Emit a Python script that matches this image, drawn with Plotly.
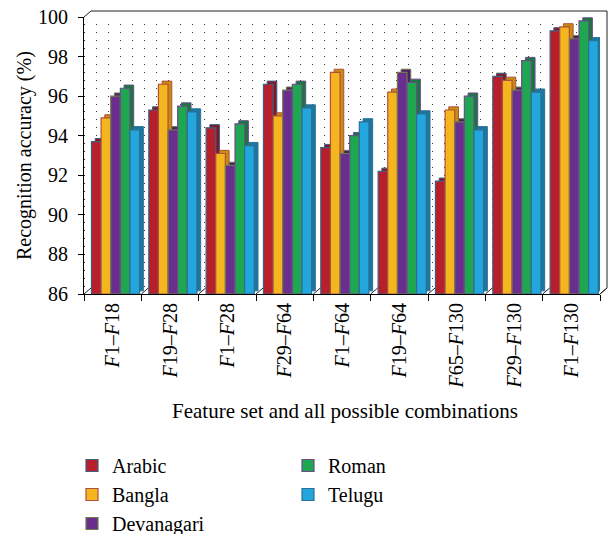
import plotly.graph_objects as go

# Feature-set combinations (x categories)
categories = [
    "<i>F</i>1–<i>F</i>18",
    "<i>F</i>19–<i>F</i>28",
    "<i>F</i>1–<i>F</i>28",
    "<i>F</i>29–<i>F</i>64",
    "<i>F</i>1–<i>F</i>64",
    "<i>F</i>19–<i>F</i>64",
    "<i>F</i>65–<i>F</i>130",
    "<i>F</i>29–<i>F</i>130",
    "<i>F</i>1–<i>F</i>130",
]

# Recognition accuracy (%) per script
arabic = [93.7, 95.3, 94.4, 96.6, 93.4, 92.2, 91.7, 97.0, 99.3]
bangla = [94.9, 96.6, 93.1, 95.0, 97.2, 96.2, 95.3, 96.8, 99.5]
devanagari = [96.0, 94.3, 92.5, 96.3, 93.1, 97.2, 94.7, 96.3, 98.9]
roman = [96.4, 95.5, 94.6, 96.6, 94.0, 96.7, 96.0, 97.8, 99.8]
telugu = [94.3, 95.2, 93.5, 95.4, 94.7, 95.1, 94.3, 96.2, 98.8]

y_ticks = [86, 88, 90, 92, 94, 96, 98, 100]

series = [
    # name, values, face colour, side colour, outline colour, legend
    ("Arabic", arabic, "#B7202A", "#7E1A22", "#3F5F86", "legend"),
    ("Bangla", bangla, "#F4B51F", "#C98C12", "#B0503A", "legend"),
    ("Devanagari", devanagari, "#6A2E8E", "#4A1F66", "#707A4C", "legend"),
    ("Roman", roman, "#1EA650", "#14793A", "#6B4C8C", "legend2"),
    ("Telugu", telugu, "#22A6DD", "#1878A3", "#2F6F92", "legend2"),
]

FONT = "Liberation Serif"
BASE = 86.0
BAR_W = 0.168      # bar width in category units
FIRST_OFF = -0.37  # left edge of first bar relative to category centre
DEPTH_X = 0.065    # 3D depth (category units)
DEPTH_Y = 0.16     # 3D depth (y units)

# plot area in pixels
W, H = 614, 534
L, R, T, B = 84, 14, 17, 240
PW, PH = W - L - R, H - T - B

fig = go.Figure()

for i, (name, vals, face, side, edge, leg) in enumerate(series):
    off = FIRST_OFF + i * BAR_W
    # extruded depth of the bar (side and top faces)
    fig.add_trace(go.Bar(
        x=categories,
        y=[v - BASE for v in vals],
        base=[BASE + DEPTH_Y] * len(vals),
        offset=off + DEPTH_X,
        width=BAR_W,
        marker=dict(color=side, line=dict(color=edge, width=1)),
        showlegend=False,
        hoverinfo="skip",
    ))
    # front face
    fig.add_trace(go.Bar(
        x=categories,
        y=[v - BASE for v in vals],
        base=[BASE] * len(vals),
        offset=off,
        width=BAR_W,
        name=name,
        legend=leg,
        legendgroup=name,
        marker=dict(color=face, line=dict(color=edge, width=1.2)),
        customdata=vals,
        hovertemplate="%{x}: %{customdata}%<extra>" + name + "</extra>",
    ))

# 3D box frame: back wall edges and floor joints
dx, dy = 7 / PW, 6 / PH
frame = [
    (0, 1, dx, 1 + dy),
    (dx, 1 + dy, 1 + dx, 1 + dy),
    (1 + dx, 1 + dy, 1 + dx, dy),
    (1 + dx, dy, 1, 0),
]
for k in range(len(categories) + 1):
    xk = k / len(categories)
    frame.append((xk, 0, xk + dx, dy))
for x0, y0, x1, y1 in frame:
    fig.add_shape(type="line", xref="x domain", yref="y domain",
                  x0=x0, y0=y0, x1=x1, y1=y1,
                  line=dict(color="#222222", width=1), layer="above")

# axis titles
fig.add_annotation(
    text="Recognition accuracy (%)", textangle=-90,
    xref="paper", yref="paper",
    x=(24 - L) / PW, y=(T + PH - 156) / PH,
    xanchor="center", yanchor="middle", showarrow=False,
    font=dict(family=FONT, size=20, color="black"),
)
fig.add_annotation(
    text="Feature set and all possible combinations",
    xref="paper", yref="paper",
    x=(345 - L) / PW, y=(T + PH - 411) / PH,
    xanchor="center", yanchor="middle", showarrow=False,
    font=dict(family=FONT, size=21, color="black"),
)

dots = "1px,11px"
legend_style = dict(
    xref="container", yref="container", xanchor="left", yanchor="top",
    bgcolor="rgba(0,0,0,0)", font=dict(family=FONT, size=20, color="black"),
    tracegroupgap=0, itemclick=False,
)
fig.update_layout(
    width=W,
    height=H,
    margin=dict(l=L, r=R, t=T, b=B, autoexpand=False),
    paper_bgcolor="white",
    plot_bgcolor="white",
    barmode="overlay",
    font=dict(family=FONT, color="black", size=20),
    xaxis=dict(
        type="category",
        showline=True, linecolor="black", linewidth=1,
        ticks="outside", tickson="boundaries", ticklen=6, tickcolor="black",
        tickangle=-90,
        tickfont=dict(family=FONT, size=20),
        showgrid=False,
        range=[-0.5, len(categories) - 0.5],
        automargin=False,
    ),
    yaxis=dict(
        range=[86, 100],
        tickvals=y_ticks,
        showline=True, linecolor="black", linewidth=1,
        ticks="outside", ticklen=5, tickcolor="black",
        ticklabelstandoff=6,
        tickfont=dict(family=FONT, size=20),
        showgrid=True, gridcolor="#333333", gridwidth=1, griddash=dots,
        minor=dict(dtick=0.4, tick0=86, showgrid=True, gridcolor="#333333",
                   gridwidth=1, griddash=dots, ticks=""),
        zeroline=False,
        automargin=False,
    ),
    legend=dict(legend_style, x=72 / W, y=1 - 446 / H),
    legend2=dict(legend_style, x=288 / W, y=1 - 446 / H),
)

fig.write_html("out.html")
